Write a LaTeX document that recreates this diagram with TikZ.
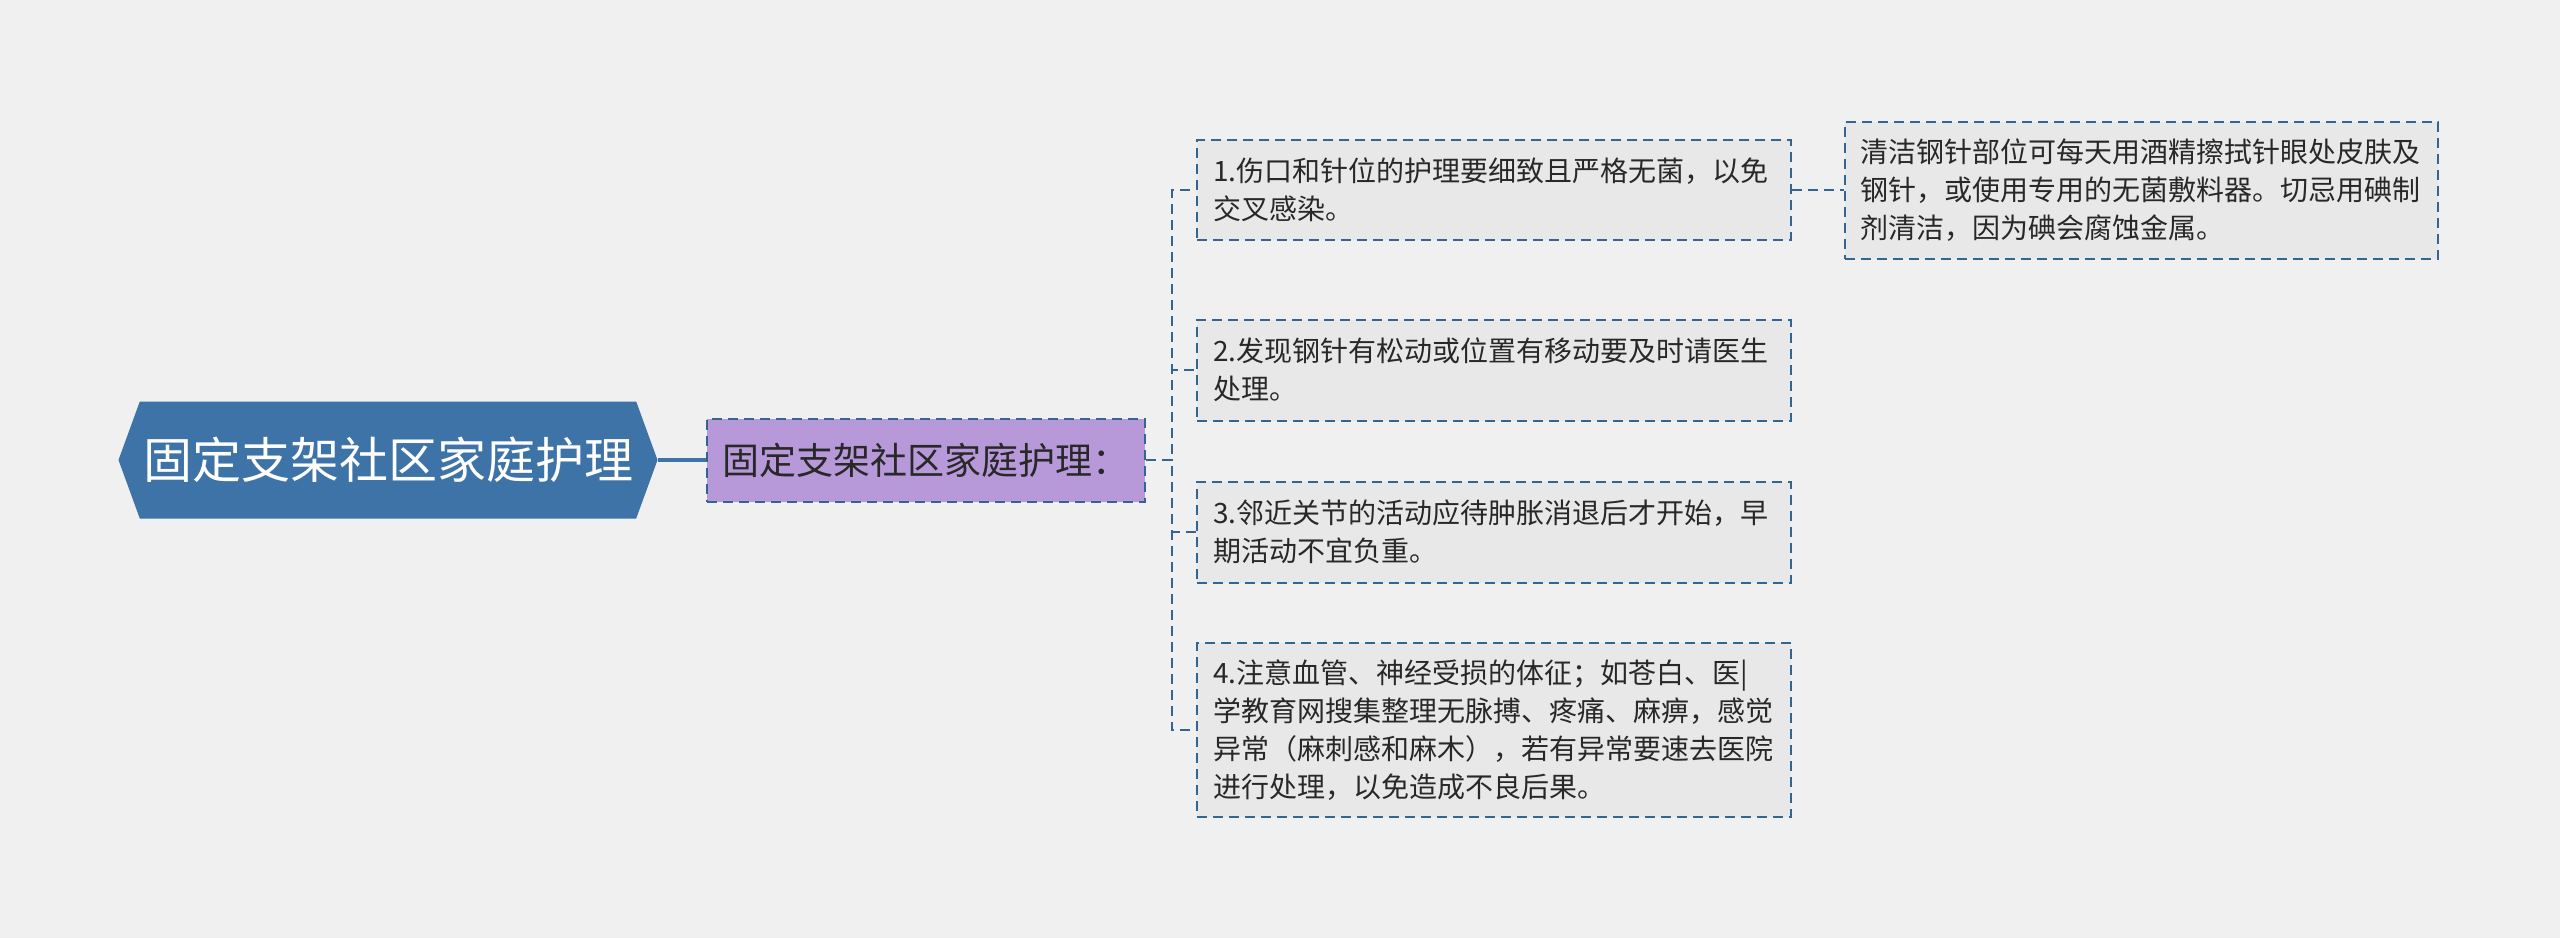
\documentclass[tikz,border=0pt]{standalone}
\usepackage{fontspec}
\setmainfont{Noto Sans CJK SC}
\usetikzlibrary{shapes.symbols}

\definecolor{bgcol}{RGB}{240,240,240}
\definecolor{rootblue}{RGB}{61,115,166}
\definecolor{linkblue}{RGB}{52,101,145}
\definecolor{midpurple}{RGB}{183,152,217}
\definecolor{leafgray}{RGB}{232,232,232}
\definecolor{textgray}{RGB}{40,40,40}

\begin{document}
\begin{tikzpicture}[
    x=1pt, y=-1pt,
    rootnode/.style={signal, signal to=west and east, signal pointer angle=140, fill=rootblue, draw=none, text=white, font=\fontsize{49}{58}\selectfont, minimum width=539pt, minimum height=117pt, inner sep=0pt},
    midnode/.style={rectangle, draw=linkblue, line width=2pt, dash pattern=on 10pt off 6pt, fill=midpurple, text=textgray, font=\fontsize{37}{44}\selectfont, minimum width=438pt, minimum height=83pt, inner sep=0pt},
    leaf/.style={rectangle, draw=linkblue, line width=2pt, dash pattern=on 10pt off 6pt, fill=leafgray, text=textgray, font=\fontsize{28}{38}\selectfont, text width=562pt, align=left, inner xsep=16pt, inner ysep=0pt},
    link/.style={draw=linkblue, line width=2pt, dash pattern=on 10pt off 6pt},
    trunk/.style={draw=rootblue, line width=3.5pt}
]

% Background
\fill[bgcol] (0,0) rectangle (2560,938);
\useasboundingbox (0,0) rectangle (2560,938);

% Root and topic
\node[rootnode] (root) at (388,460) {固定支架社区家庭护理};
\node[midnode] (care) at (926,460) {固定支架社区家庭护理：};

% Care points
\node[leaf, minimum height=100pt] (pin) at (1494,190) {1.伤口和针位的护理要细致且严格无菌，以免\\交叉感染。};
\node[leaf, minimum height=101pt] (loose) at (1494,370) {2.发现钢针有松动或位置有移动要及时请医生\\处理。};
\node[leaf, minimum height=101pt] (joint) at (1494,532) {3.邻近关节的活动应待肿胀消退后才开始，早\\期活动不宜负重。};
\node[leaf, minimum height=174pt] (vessel) at (1494,730) {4.注意血管、神经受损的体征；如苍白、医|\\学教育网搜集整理无脉搏、疼痛、麻痹，感觉\\异常（麻刺感和麻木），若有异常要速去医院\\进行处理，以免造成不良后果。};

% Detail
\node[leaf, text width=561pt, minimum height=137pt] (clean) at (2141,190) {清洁钢针部位可每天用酒精擦拭针眼处皮肤及\\钢针，或使用专用的无菌敷料器。切忌用碘制\\剂清洁，因为碘会腐蚀金属。};

% Connections
\draw[trunk] (root.east) -- (care.west);
\draw[link] (care.east) -- ++(26,0) |- (pin.west);
\draw[link] (care.east) -- ++(26,0) |- (loose.west);
\draw[link] (care.east) -- ++(26,0) |- (joint.west);
\draw[link] (care.east) -- ++(26,0) |- (vessel.west);
\draw[link] (pin.east) -- (clean.west);

\end{tikzpicture}
\end{document}
